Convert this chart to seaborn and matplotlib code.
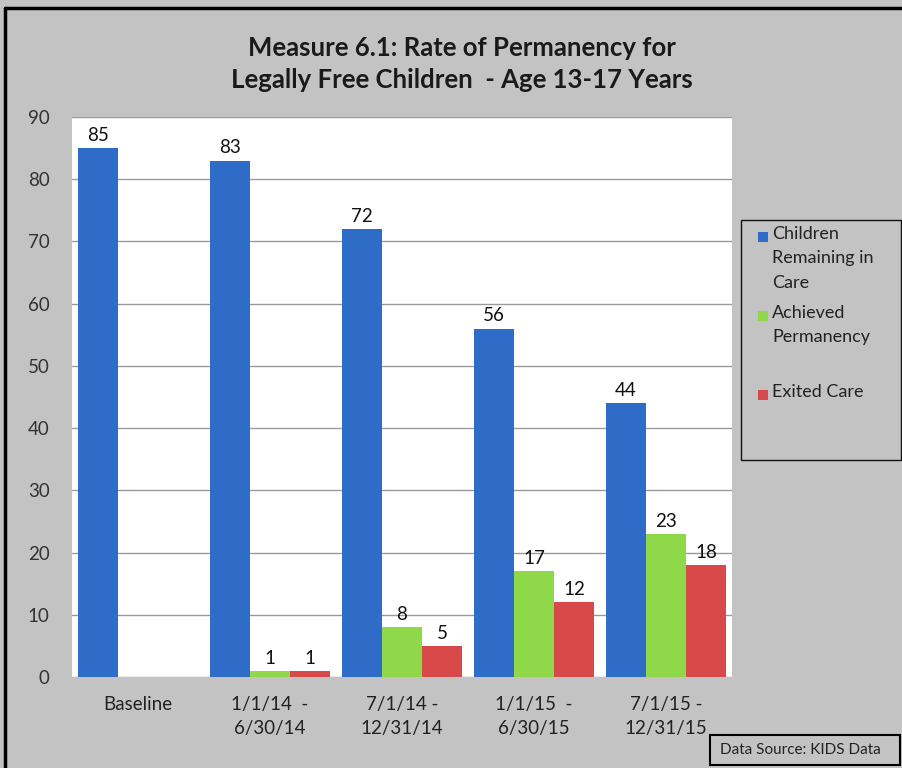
import numpy as np
import pandas as pd
import matplotlib
matplotlib.use("Agg")
import matplotlib.pyplot as plt
import seaborn as sns
from matplotlib.patches import Rectangle
from matplotlib.lines import Line2D

categories = ["Baseline", "1/1/14  -\n6/30/14", "7/1/14 -\n12/31/14", "1/1/15  -\n6/30/15", "7/1/15 -\n12/31/15"]
series = ["Children\nRemaining in\nCare", "Achieved\nPermanency", "Exited Care"]
remaining = [85, 83, 72, 56, 44]
achieved = [np.nan, 1, 8, 17, 23]
exited = [np.nan, 1, 5, 12, 18]
colors = ["#2f6cc8", "#8fd84a", "#d84a4a"]
title = "Measure 6.1: Rate of Permanency for\nLegally Free Children  - Age 13-17 Years"
yticks = list(range(0, 100, 10))

rows = []
for s, vals in zip(series, [remaining, achieved, exited]):
    for c, v in zip(categories, vals):
        rows.append({"period": c, "series": s, "value": v})
df = pd.DataFrame(rows)

sns.set_theme(style="white")
plt.rcParams['font.family'] = ['Lato', 'DejaVu Sans']

W, H = 902, 768
fig = plt.figure(figsize=(W / 100, H / 100), dpi=100)
fig.patch.set_facecolor("#c3c3c3")

def px(x0, y0, x1, y1):
    return [x0 / W, 1 - y1 / H, (x1 - x0) / W, (y1 - y0) / H]

ax = fig.add_axes(px(72, 117, 732, 677))
ax.set_facecolor("white")
sns.barplot(data=df, x="period", y="value", hue="series", hue_order=series,
            order=categories, palette=colors, width=0.91, ax=ax, legend=False,
            saturation=1, edgecolor="none")
ax.set_ylim(0, 90)
ax.set_xlim(-0.5, len(categories) - 0.5)
ax.set_yticks(yticks)
ax.yaxis.grid(True, color="#9a9a9a", linewidth=1)
ax.set_axisbelow(True)
for sp in ax.spines.values():
    sp.set_visible(False)
ax.set_xlabel("")
ax.set_ylabel("")
ax.tick_params(axis="y", labelsize=13.5, colors="#333333", pad=16, length=0)
ax.tick_params(axis="x", labelsize=13.5, colors="#222222", pad=14, length=0)
for lab in ax.get_xticklabels():
    lab.set_linespacing(1.45)

for cont in ax.containers:
    labels = ["" if np.isnan(b.get_height()) else f"{b.get_height():.0f}" for b in cont]
    ax.bar_label(cont, labels=labels, fontsize=13.5, padding=3, color="#111111")

fig.text(462 / W, 1 - 64 / H, title, ha="center", va="center", fontsize=18.5,
         fontweight="bold", color="#1a1a1a", linespacing=1.4)

# legend (drawn by hand to match the Excel layout)
fig.add_artist(Rectangle((741 / W, 1 - 460 / H), 160 / W, 240 / H, transform=fig.transFigure,
                         facecolor="none", edgecolor="#111111", lw=1))
legend_rows = [237, 316, 395]
for s, c, y in zip(series, colors, legend_rows):
    fig.add_artist(Rectangle((758 / W, 1 - (y + 5) / H), 10 / W, 10 / H, transform=fig.transFigure,
                             facecolor=c, edgecolor="none"))
    fig.text(772 / W, 1 - (y - 11) / H, s, ha="left", va="top", fontsize=13,
             color="#222222", linespacing=1.65)

# outer border
fig.add_artist(Line2D([5 / W, 5 / W], [0, 1 - 8 / H], color="black", lw=2.5, transform=fig.transFigure))
fig.add_artist(Line2D([5 / W, 1], [1 - 8 / H, 1 - 8 / H], color="black", lw=2.5, transform=fig.transFigure))

# data source box
fig.add_artist(Rectangle((710 / W, 1 - 765 / H), 190 / W, 30 / H, transform=fig.transFigure,
                         facecolor="none", edgecolor="black", lw=1.5))
fig.text(800 / W, 1 - 750 / H, "Data Source: KIDS Data", ha="center", va="center", fontsize=11, color="#222222")

fig.savefig("out.png", dpi=100, facecolor=fig.get_facecolor())
